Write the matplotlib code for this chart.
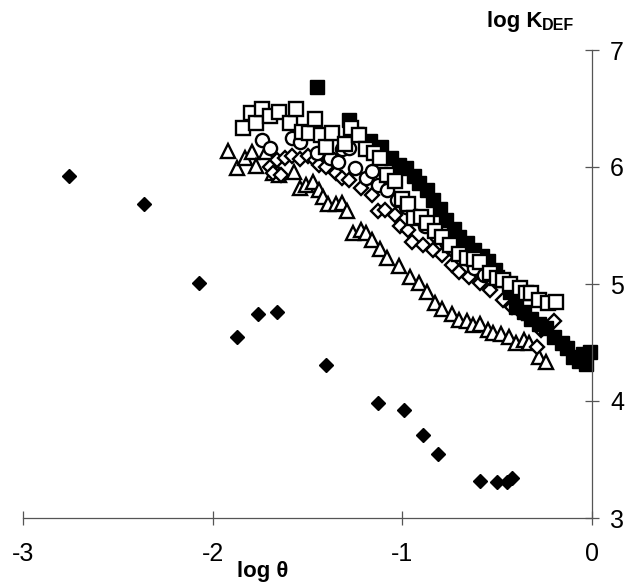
import matplotlib
matplotlib.use('Agg')
import matplotlib.pyplot as plt

plt.rcParams['font.family'] = ['Liberation Sans', 'DejaVu Sans']

# filled diamonds
dia_x = [-2.76, -2.36, -2.07, -1.87, -1.76, -1.66, -1.40, -1.13, -0.99, -0.89, -0.81, -0.59, -0.50, -0.45, -0.42]
dia_y = [5.92, 5.68, 5.01, 4.55, 4.74, 4.76, 4.31, 3.98, 3.92, 3.71, 3.55, 3.32, 3.31, 3.31, 3.34]

# filled squares
fsq_x = [-1.45, -1.28, -1.24, -1.17, -1.11, -1.06, -1.02, -0.98, -0.94, -0.91, -0.87, -0.84,
         -0.80, -0.77, -0.73, -0.70, -0.66, -0.62, -0.58, -0.55, -0.51, -0.47, -0.43, -0.40,
         -0.36, -0.32, -0.28, -0.24, -0.20, -0.16, -0.13, -0.10, -0.07, -0.05, -0.03, -0.01]
fsq_y = [6.68, 6.40, 6.28, 6.22, 6.17, 6.08, 6.02, 5.99, 5.92, 5.86, 5.80, 5.72,
         5.64, 5.55, 5.47, 5.40, 5.35, 5.29, 5.24, 5.20, 5.12, 5.03, 4.93, 4.80,
         4.76, 4.70, 4.66, 4.62, 4.55, 4.50, 4.45, 4.38, 4.34, 4.40, 4.32, 4.42]

# open squares
osq_x = [-1.84, -1.80, -1.77, -1.74, -1.70, -1.65, -1.59, -1.56, -1.53, -1.49, -1.46, -1.43,
         -1.40, -1.37, -1.30, -1.27, -1.23, -1.19, -1.15, -1.12, -1.08, -1.04, -1.00, -0.97,
         -0.94, -0.90, -0.87, -0.83, -0.79, -0.75, -0.70, -0.66, -0.62, -0.59, -0.54, -0.50,
         -0.47, -0.43, -0.38, -0.35, -0.32, -0.28, -0.23, -0.19]
osq_y = [6.33, 6.46, 6.38, 6.50, 6.44, 6.47, 6.38, 6.50, 6.30, 6.29, 6.41, 6.27,
         6.17, 6.29, 6.20, 6.33, 6.27, 6.15, 6.12, 6.08, 5.93, 5.88, 5.73, 5.68,
         5.56, 5.57, 5.52, 5.45, 5.40, 5.33, 5.26, 5.22, 5.21, 5.19, 5.09, 5.05,
         5.03, 5.00, 4.97, 4.92, 4.92, 4.86, 4.84, 4.85]

# open circles
cir_x = [-1.74, -1.70, -1.58, -1.54, -1.45, -1.38, -1.34, -1.32, -1.28, -1.25, -1.19, -1.16,
         -1.13, -1.08, -1.03, -0.98, -0.93, -0.88, -0.82, -0.77, -0.72, -0.67, -0.62, -0.57]
cir_y = [6.23, 6.16, 6.25, 6.21, 6.12, 6.08, 6.04, 6.15, 6.16, 5.99, 5.91, 5.97,
         5.85, 5.80, 5.72, 5.66, 5.58, 5.50, 5.42, 5.36, 5.28, 5.22, 5.14, 5.08]

# open diamonds
odi_x = [-1.70, -1.68, -1.66, -1.64, -1.62, -1.58, -1.54, -1.50, -1.46, -1.44, -1.40, -1.35,
         -1.32, -1.28, -1.22, -1.16, -1.13, -1.09, -1.04, -1.01, -0.97, -0.95, -0.89, -0.84,
         -0.79, -0.74, -0.70, -0.65, -0.59, -0.54, -0.47, -0.42, -0.37, -0.33, -0.29, -0.27, -0.20]
odi_y = [6.00, 5.95, 6.06, 5.93, 6.08, 6.09, 6.07, 6.09, 6.06, 6.02, 6.00, 5.95,
         5.91, 5.89, 5.82, 5.76, 5.62, 5.63, 5.59, 5.50, 5.46, 5.36, 5.33, 5.29,
         5.25, 5.16, 5.10, 5.06, 5.01, 4.95, 4.86, 4.80, 4.75, 4.71, 4.46, 4.61, 4.68]

# open triangles
tri_x = [-1.92, -1.87, -1.83, -1.79, -1.77, -1.72, -1.68, -1.65, -1.57, -1.54, -1.51, -1.47,
         -1.44, -1.42, -1.39, -1.35, -1.32, -1.29, -1.26, -1.22, -1.19, -1.16, -1.12, -1.08,
         -1.02, -0.96, -0.91, -0.87, -0.83, -0.79, -0.74, -0.70, -0.66, -0.63, -0.59, -0.55,
         -0.52, -0.48, -0.44, -0.40, -0.36, -0.33, -0.28, -0.24]
tri_y = [6.14, 5.99, 6.08, 6.13, 6.01, 6.13, 5.95, 5.93, 5.96, 5.82, 5.85, 5.87,
         5.80, 5.74, 5.68, 5.68, 5.69, 5.62, 5.44, 5.46, 5.44, 5.38, 5.30, 5.22,
         5.15, 5.06, 5.01, 4.93, 4.84, 4.79, 4.74, 4.69, 4.68, 4.65, 4.66, 4.61,
         4.58, 4.57, 4.55, 4.50, 4.52, 4.50, 4.38, 4.33]

x_ticks = [-3, -2, -1, 0]
y_ticks = [3, 4, 5, 6, 7]

fig = plt.figure(figsize=(6.26, 5.83), dpi=100)
ax = fig.add_axes([23 / 626, 65 / 583, 569 / 626, 468 / 583])

open_style = dict(linestyle='none', markerfacecolor='white', markeredgecolor='black',
                  markeredgewidth=1.7, clip_on=False)
ax.plot(tri_x, tri_y, marker='^', markersize=10.5, **open_style)
ax.plot(odi_x, odi_y, marker='D', markersize=7, **open_style)
ax.plot(cir_x, cir_y, marker='o', markersize=9.5, **open_style)
ax.plot(fsq_x, fsq_y, marker='s', markersize=10, linestyle='none', color='black', clip_on=False)
ax.plot(osq_x, osq_y, marker='s', markersize=10, **open_style)
ax.plot(dia_x, dia_y, marker='D', markersize=7.5, linestyle='none', color='black', clip_on=False)

ax.set_xlim(-3, 0)
ax.set_ylim(3, 7)
ax.set_xticks(x_ticks)
ax.set_yticks(y_ticks)
ax.set_xticklabels([str(v) for v in x_ticks])

for s in ['top', 'left']:
    ax.spines[s].set_visible(False)
for s in ['bottom', 'right']:
    ax.spines[s].set_color('#555555')
    ax.spines[s].set_linewidth(0.9)

ax.yaxis.tick_right()
ax.tick_params(axis='both', direction='inout', length=10, width=0.9, color='#555555',
               labelsize=18)
ax.tick_params(axis='x', pad=12)
ax.tick_params(axis='y', pad=8)

fig.text(263 / 626, 1 / 583, 'log \u03b8', fontsize=16, fontweight='bold',
         ha='center', va='bottom')
fig.text(487 / 626, 1 - 22 / 583, 'log K', fontsize=16, fontweight='bold', ha='left', va='center')
fig.text(542 / 626, 1 - 26 / 583, 'DEF', fontsize=11.5, fontweight='bold', ha='left', va='center')

fig.savefig('out.png', dpi=100)
